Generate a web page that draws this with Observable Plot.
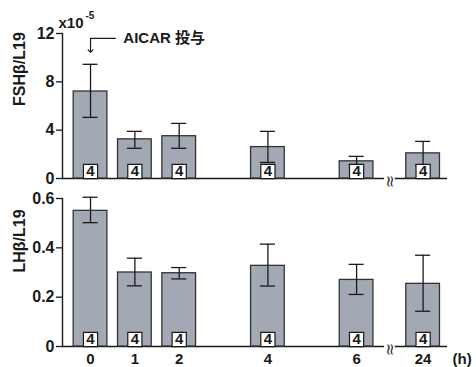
<!DOCTYPE html>
<html>
<head>
<meta charset="utf-8">
<script src="https://cdn.jsdelivr.net/npm/d3@7"></script>
<script src="https://cdn.jsdelivr.net/npm/@observablehq/plot@0.6"></script>
<style>
  body { margin: 0; background: #fff; }
  #wrap { position: relative; width: 476px; height: 367px; overflow: hidden; }
  #wrap svg { position: absolute; left: 0; }
</style>
</head>
<body>
<div id="wrap"></div>
<script>
// ---- data ----
const hours = ["0", "1", "2", "4", "6", "24"];
const slots = [0, 1, 2, 4, 6, 7.5];          // 24 h drawn after the axis break
const fsh   = [7.2, 3.24, 3.5, 2.6, 1.42, 2.08];   // x10^-5
const fshHi = [9.45, 3.9, 4.56, 3.9, 1.83, 3.07];
const fshLo = [5.06, 2.5, 2.5, 1.33, 1.16, 1.08];
const lh    = [0.55, 0.30, 0.297, 0.327, 0.27, 0.254];
const lhHi  = [0.605, 0.358, 0.32, 0.415, 0.333, 0.37];
const lhLo  = [0.502, 0.246, 0.274, 0.245, 0.211, 0.143];
const nCount = [4, 4, 4, 4, 4, 4];
const fshTicks = [0, 4, 8, 12];
const fshTickLabels = ["0", "4", "8", "12"];
const lhTicks = [0, 0.2, 0.4, 0.6];
const lhTickLabels = ["0", "0.2", "0.4", "0.6"];

const fshData = hours.map((h, i) => ({h, pos: slots[i], v: fsh[i], hi: fshHi[i], lo: fshLo[i], n: nCount[i]}));
const lhData  = hours.map((h, i) => ({h, pos: slots[i], v: lh[i], hi: lhHi[i], lo: lhLo[i], n: nCount[i]}));

const FONT = "'Liberation Sans', Arial, Helvetica, 'Noto Sans CJK JP', sans-serif";
const BAR = "#a2a8b4";
const INK = "#1a1a1a";
const xDomain = [-0.632, 8.05];
const half = 0.38, cap = 0.17, breakPos = 6.75;

function panelMarks(data, ticks, tickLabels, label) {
  return [
    Plot.axisY({ticks, tickSize: 6, tickFormat: () => "", label: null, stroke: INK, strokeWidth: 1.3}),
    Plot.text(ticks, {y: d => d, frameAnchor: "left", text: (d, i) => tickLabels[i], dx: -8,
      textAnchor: "end", fontSize: 16, fontWeight: "bold", fill: INK}),
    Plot.text([label], {frameAnchor: "left", text: d => d, dx: -43, rotate: -90, fontSize: 16,
      fontWeight: "bold", fill: INK}),
    Plot.ruleY([0], {stroke: INK, strokeWidth: 1.4}),
    Plot.ruleY([0], {x1: breakPos - 0.12, x2: breakPos + 0.12, stroke: "white", strokeWidth: 4}),
    Plot.text(["≈"], {x: breakPos, y: 0, text: d => d, dy: 3, rotate: 90, fontSize: 16, fill: "#333",
      fontWeight: "normal", fontFamily: "DejaVu Sans"}),
    Plot.rectY(data, {x1: d => d.pos - half, x2: d => d.pos + half, y: "v",
      fill: BAR, stroke: "#333", strokeWidth: 1.3}),
    Plot.ruleX(data, {x: "pos", y1: "lo", y2: "hi", stroke: INK, strokeWidth: 1.3}),
    Plot.ruleY(data, {x1: d => d.pos - cap, x2: d => d.pos + cap, y: "hi", stroke: INK, strokeWidth: 1.3}),
    Plot.ruleY(data, {x1: d => d.pos - cap, x2: d => d.pos + cap, y: "lo", stroke: INK, strokeWidth: 1.3}),
    Plot.dot(data, {x: "pos", y: 0, symbol: "square", r: 8, fill: "white", stroke: INK,
      strokeWidth: 1.2, dy: -7}),
    Plot.text(data, {x: "pos", y: 0, text: d => String(d.n), dy: -7, fontSize: 15,
      fontWeight: "bold", fill: INK}),
    Plot.frame({anchor: "left", stroke: INK, strokeWidth: 1.4})
  ];
}

const topChart = Plot.plot({
  width: 476, height: 190,
  marginLeft: 62, marginRight: 29, marginTop: 33, marginBottom: 12,
  style: {fontFamily: FONT, fontSize: "14px", fontWeight: "bold", color: INK, background: "transparent"},
  x: {domain: xDomain, axis: null},
  y: {domain: [0, 12], axis: null},
  marks: [
    ...panelMarks(fshData, fshTicks, fshTickLabels, "FSHβ/L19"),
    Plot.text(["x10"], {frameAnchor: "top-left", text: d => d, dx: -4, dy: -6,
      textAnchor: "start", lineAnchor: "bottom", fontSize: 15, fontWeight: "bold"}),
    Plot.text(["-5"], {frameAnchor: "top-left", text: d => d, dx: 23, dy: -15,
      textAnchor: "start", lineAnchor: "bottom", fontSize: 10, fontWeight: "bold"}),
    Plot.line([[0.56, 11.59], [0, 11.59], [0, 10.55]], {stroke: INK, strokeWidth: 1.2, markerEnd: "arrow"}),
    Plot.text(["AICAR 投与"], {x: 0.74, y: 11.59, text: d => d, textAnchor: "start",
      fontSize: 15, fontWeight: "bold", fill: INK})
  ]
});
topChart.style.top = "0px";

const bottomChart = Plot.plot({
  width: 476, height: 177,
  marginLeft: 62, marginRight: 29, marginTop: 8, marginBottom: 21,
  style: {fontFamily: FONT, fontSize: "14px", fontWeight: "bold", color: INK, background: "transparent"},
  x: {domain: xDomain, axis: null},
  y: {domain: [0, 0.6], axis: null},
  marks: [
    ...panelMarks(lhData, lhTicks, lhTickLabels, "LHβ/L19"),
    Plot.text(lhData, {x: "pos", y: 0, text: "h", dy: 17, lineAnchor: "bottom", fontSize: 15,
      fontWeight: "bold", fill: INK}),
    Plot.text(["(h)"], {frameAnchor: "bottom-right", text: d => d, dx: 5, dy: 17, lineAnchor: "bottom",
      textAnchor: "start", fontSize: 15, fontWeight: "bold", fill: INK})
  ]
});
bottomChart.style.top = "190px";

const wrap = document.getElementById("wrap");
wrap.appendChild(topChart);
wrap.appendChild(bottomChart);
</script>
</body>
</html>
